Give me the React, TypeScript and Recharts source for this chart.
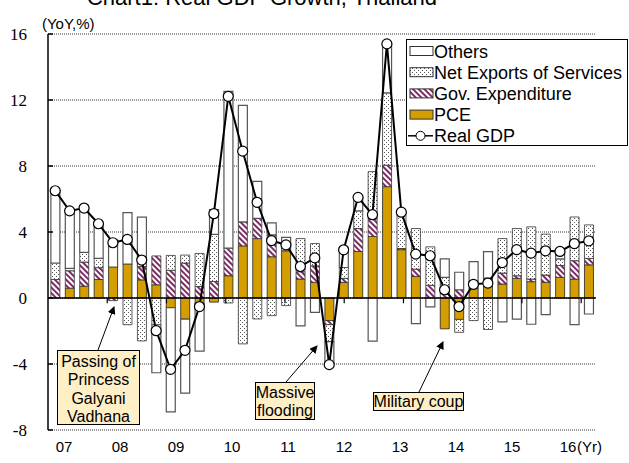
import React from 'react';
import { ComposedChart, Bar, Line, XAxis, YAxis, CartesianGrid, ReferenceLine } from 'recharts';

// quarterly, 2007Q1 - 2016Q2
const quarters = [
  '07Q1', '07Q2', '07Q3', '07Q4', '08Q1', '08Q2', '08Q3', '08Q4',
  '09Q1', '09Q2', '09Q3', '09Q4', '10Q1', '10Q2', '10Q3', '10Q4',
  '11Q1', '11Q2', '11Q3', '11Q4', '12Q1', '12Q2', '12Q3', '12Q4',
  '13Q1', '13Q2', '13Q3', '13Q4', '14Q1', '14Q2', '14Q3', '14Q4',
  '15Q1', '15Q2', '15Q3', '15Q4', '16Q1', '16Q2',
];
const yearTicks = ['07Q1', '08Q1', '09Q1', '10Q1', '11Q1', '12Q1', '13Q1', '14Q1', '15Q1', '16Q1'];
// small tick marks on the zero line between years (in quarter units)
const yearBoundaries = [4, 8, 12, 16, 20, 24, 28, 32, 36];

const pce = [0, 0.6, 0.72, 1.12, 1.88, 2.06, 1.1, 0.8, -0.58, -1.28, -0.34, -0.25, 1.35, 3.16, 3.6, 2.5, 2.86, 1.15, 0.95, -1.37, 0.95, 2.82, 3.73, 6.75, 2.93, 1.31, 0, -1.87, -1.3, 0.57, 1.21, 0.85, 1.19, 0.99, 0.95, 1.25, 1.15, 2.01];
const gov = [1.12, 1.05, 1.46, 0.72, -0.16, 0, 0.8, 1.75, 1.68, 2.12, 0.7, 1.0, 1.67, 1.45, 1.23, 1.32, 0, 0.44, 1.0, -0.25, 0.24, 1.39, 1.05, 1.3, 0.07, 0.44, 0.77, 0.3, 0.5, 0, 0, 0.66, 0.16, 0.16, 0.44, 0.72, 1.11, 0.39];
const netExports = [1.0, 0.15, 0.58, 0.56, 0, -1.62, -2.6, -1.62, 0.9, 0.48, 2.0, 2.86, -0.3, -2.78, -1.27, -1.07, -0.46, 2.01, 1.35, -1.02, 0.66, 1.07, 2.88, 4.38, 2.15, 2.46, 2.33, 0.95, -0.78, -1.37, -1.91, 2.09, 2.86, 3.16, 2.48, 0.4, 2.65, 2.03];
const others = [4.38, 3.48, 2.69, 2.1, 1.63, 3.11, 3.0, -2.91, -6.32, -4.49, -2.88, 1.5, 9.5, 7.07, 2.24, 0.73, 0.82, -1.69, -0.87, -1.4, 1.07, 0.82, -2.61, 2.97, 0.05, -1.55, -0.54, 1.12, 1.06, 1.63, 1.6, -1.45, -1.28, -1.59, -1.01, 0.45, -1.61, -0.97];
const realGdp = [6.5, 5.28, 5.45, 4.5, 3.35, 3.55, 2.3, -1.98, -4.32, -3.17, -0.52, 5.11, 12.22, 8.9, 5.8, 3.48, 3.22, 1.91, 2.43, -4.04, 2.92, 6.1, 5.05, 15.4, 5.2, 2.66, 2.56, 0.5, -0.52, 0.83, 0.9, 2.15, 2.93, 2.72, 2.86, 2.82, 3.3, 3.46];

const yTicks = [-8, -4, 0, 4, 8, 12, 16];

const data = quarters.map((q, i) => ({
  q,
  pce: pce[i],
  gov: gov[i],
  nx: netExports[i],
  others: others[i],
  gdp: realGdp[i],
}));

const GOLD = '#D49E00';
const PURPLE = '#7E2C66';
const SANS = '"Liberation Sans", Arial, sans-serif';
const SERIF = '"Liberation Serif", "Times New Roman", serif';

const Patterns = ({ prefix }: { prefix: string }) => (
  <defs>
    <pattern id={`${prefix}hatch`} patternUnits="userSpaceOnUse" width="4" height="4" patternTransform="rotate(-45)">
      <rect width="4" height="4" fill="#fff" />
      <rect width="2" height="4" fill={PURPLE} />
    </pattern>
    <pattern id={`${prefix}dots`} patternUnits="userSpaceOnUse" width="4" height="4">
      <rect width="4" height="4" fill="#fff" />
      <rect x="0" y="0" width="1" height="1" fill="#555" />
      <rect x="2" y="2" width="1" height="1" fill="#555" />
    </pattern>
  </defs>
);

const YTick = (props: any) => {
  const { x, y, payload } = props;
  return (
    <g>
      <line x1={x} x2={x + 5} y1={y} y2={y} stroke="#000" strokeWidth={1.5} />
      <text x={x - 21} y={y + 6} textAnchor="end" fontFamily={SERIF} fontSize={17} fill="#000">
        {payload.value}
      </text>
    </g>
  );
};

const XTick = (props: any) => {
  const { x, y, payload } = props;
  const label = String(payload.value).slice(0, 2);
  const k = yearTicks.indexOf(String(payload.value));
  // year labels drift slightly left of the first-quarter bar across the axis
  const cx = x + 8.8 - 1.68 * k;
  return (
    <g>
      <text x={cx} y={y + 22} textAnchor="middle" fontFamily={SANS} fontSize={15} fill="#000">
        {label}
      </text>
      {label === '16' && (
        <text x={cx + 9} y={y + 22} textAnchor="start" fontFamily={SANS} fontSize={15} fill="#000">
          (Yr)
        </text>
      )}
    </g>
  );
};

const legendRows = [
  { name: 'Others', kind: 'others' },
  { name: 'Net Exports of Services', kind: 'nx' },
  { name: 'Gov. Expenditure', kind: 'gov' },
  { name: 'PCE', kind: 'pce' },
  { name: 'Real GDP', kind: 'gdp' },
];

const Arrow = ({ x1, y1, x2, y2 }: { x1: number; y1: number; x2: number; y2: number }) => (
  <line x1={x1} y1={y1} x2={x2} y2={y2} stroke="#000" strokeWidth={1} markerEnd="url(#ov-arrow)" />
);

const Overlay = () => (
  <svg width={629} height={463} style={{ position: 'absolute', left: 0, top: 0, pointerEvents: 'none' }}>
    <Patterns prefix="ov-" />
    <defs>
      <marker id="ov-arrow" markerWidth="8" markerHeight="8" refX="7" refY="4" orient="auto" markerUnits="userSpaceOnUse">
        <path d="M0,0 L8,4 L0,8 z" fill="#000" />
      </marker>
    </defs>

    <text x={262} y={5} textAnchor="middle" fontFamily={SANS} fontSize={22} fill="#000">
      Chart1: Real GDP Growth, Thailand
    </text>
    <text x={42} y={29} fontFamily={SANS} fontSize={15} fill="#000">(YoY,%)</text>

    {/* legend */}
    <rect x={406.5} y={39.5} width={221} height={106} fill="#fff" stroke="#000" strokeWidth={1} />
    {legendRows.map((r, i) => {
      const cy = 51 + i * 21.2;
      let swatch: React.ReactNode;
      if (r.kind === 'gdp') {
        swatch = (
          <g>
            <line x1={408} x2={433} y1={cy} y2={cy} stroke="#000" strokeWidth={1.5} />
            <circle cx={420.5} cy={cy} r={4.5} fill="#fff" stroke="#000" strokeWidth={1} />
          </g>
        );
      } else {
        const fill = r.kind === 'pce' ? GOLD : r.kind === 'gov' ? 'url(#ov-hatch)' : r.kind === 'nx' ? 'url(#ov-dots)' : '#fff';
        swatch = <rect x={410} y={cy - 4.5} width={23} height={9} fill={fill} stroke="#333" strokeWidth={1} />;
      }
      return (
        <g key={r.name}>
          {swatch}
          <text x={434} y={cy + 6.5} fontFamily={SANS} fontSize={18} fill="#000">{r.name}</text>
        </g>
      );
    })}

    {/* annotations */}
    <Arrow x1={98} y1={350} x2={114} y2={307} />
    <rect x={57.5} y={350.5} width={82} height={74} fill="#FFEFC6" stroke="#000" strokeWidth={1} />
    {['Passing of', 'Princess', 'Galyani', 'Vadhana'].map((t, i) => (
      <text key={t} x={98.5} y={366.5 + i * 18.5} textAnchor="middle" fontFamily={SANS} fontSize={16} fill="#000">{t}</text>
    ))}

    <Arrow x1={286} y1={382} x2={317} y2={346} />
    <rect x={255.5} y={382.5} width={59} height={37} fill="#FFEFC6" stroke="#000" strokeWidth={1} />
    <text x={285} y={398} textAnchor="middle" fontFamily={SANS} fontSize={16} fill="#000">Massive</text>
    <text x={285} y={416} textAnchor="middle" fontFamily={SANS} fontSize={16} fill="#000">flooding</text>

    <Arrow x1={419} y1={392} x2={443} y2={342} />
    <rect x={373.5} y={392.5} width={90} height={18} fill="#FFEFC6" stroke="#000" strokeWidth={1} />
    <text x={418.5} y={407} textAnchor="middle" fontFamily={SANS} fontSize={16} fill="#000">Military coup</text>
  </svg>
);

export default function App() {
  return (
    <div style={{ position: 'relative', width: 629, height: 463, background: '#fff' }}>
      <style>{'body{margin:0}'}</style>
      <ComposedChart
        width={629}
        height={463}
        data={data}
        margin={{ top: 34, right: 33, bottom: 8, left: 0 }}
        stackOffset="sign"
        barCategoryGap="20%"
      >
        <Patterns prefix="" />
        <CartesianGrid vertical={false} stroke="#333" strokeDasharray="1 1" />
        <XAxis
          dataKey="q"
          ticks={yearTicks}
          interval={0}
          tick={<XTick />}
          tickLine={false}
          axisLine={false}
          tickSize={0}
          tickMargin={0}
          height={25}
        />
        <XAxis xAxisId="num" type="number" domain={[0, quarters.length]} hide />
        <YAxis
          domain={[-8, 16]}
          ticks={yTicks}
          tick={<YTick />}
          tickLine={false}
          tickSize={0}
          tickMargin={0}
          axisLine={{ stroke: '#000', strokeWidth: 1.5 }}
          width={48}
        />
        <YAxis
          yAxisId="r"
          orientation="right"
          domain={[-8, 16]}
          tick={false}
          tickLine={false}
          axisLine={{ stroke: '#000', strokeWidth: 1.5 }}
          width={0}
        />
        <Bar dataKey="pce" stackId="a" fill={GOLD} stroke="#222" strokeWidth={0.8} isAnimationActive={false} />
        <Bar dataKey="gov" stackId="a" fill="url(#hatch)" stroke="#333" strokeWidth={0.8} isAnimationActive={false} />
        <Bar dataKey="nx" stackId="a" fill="url(#dots)" stroke="#333" strokeWidth={0.8} isAnimationActive={false} />
        <Bar dataKey="others" stackId="a" fill="#fff" stroke="#555" strokeWidth={1.2} isAnimationActive={false} />
        <ReferenceLine y={0} stroke="#000" strokeWidth={1.5} />
        {yearBoundaries.map((b) => (
          <ReferenceLine
            key={b}
            xAxisId="num"
            segment={[{ x: b, y: 0 }, { x: b, y: -0.32 }]}
            stroke="#000"
            strokeWidth={1.2}
          />
        ))}
        <Line
          dataKey="gdp"
          type="linear"
          stroke="#000"
          strokeWidth={2}
          dot={{ r: 5, fill: '#fff', stroke: '#000', strokeWidth: 1.2 }}
          isAnimationActive={false}
        />
      </ComposedChart>
      <Overlay />
    </div>
  );
}
